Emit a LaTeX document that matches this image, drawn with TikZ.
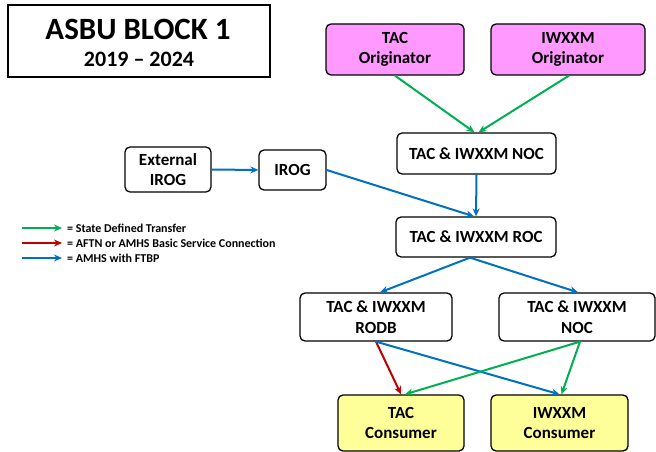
\documentclass[tikz,border=0pt]{standalone}
\usepackage{fontspec}
\setmainfont{Carlito}
\usetikzlibrary{arrows.meta}
\definecolor{cgreen}{HTML}{00B050}
\definecolor{cred}{HTML}{C00000}
\definecolor{cblue}{HTML}{0070C0}
\definecolor{cviolet}{HTML}{FF99FF}
\definecolor{cyellow}{HTML}{FFFF99}
\tikzset{
  box/.style={draw=black, line width=1.3pt, rounded corners=5pt, align=center, font=\fontsize{17}{20.5}\selectfont\bfseries, inner sep=0pt},
  orig/.style={box, fill=cviolet},
  cons/.style={box, fill=cyellow},
  conn/.style={line width=2pt, -{Stealth[length=8pt,width=7pt]}},
  gconn/.style={conn, draw=cgreen, fill=cgreen},
  rconn/.style={conn, draw=cred, fill=cred},
  bconn/.style={conn, draw=cblue, fill=cblue},
  legline/.style={line width=2.6pt},
  legtext/.style={anchor=west, font=\fontsize{12}{14}\selectfont\bfseries, inner sep=0pt}
}
\begin{document}
\begin{tikzpicture}[x=1pt, y=-1pt]
\useasboundingbox (0,0) rectangle (656,452);
% title
\node[draw=black, line width=1.3pt, minimum width=262pt, minimum height=72pt, inner sep=0pt] (title) at (139,41) {};
\node[font=\fontsize{31}{36}\selectfont\bfseries, inner sep=0pt] (titlea) at (138,29) {ASBU BLOCK 1};
\node[font=\fontsize{22}{26}\selectfont\bfseries, inner sep=0pt] (titleb) at (139,59) {2019 -- 2024};
% nodes
\node[orig, minimum width=138pt, minimum height=51pt] (tacorig) at (395,49.5) {TAC\\Originator};
\node[orig, minimum width=154pt, minimum height=51pt] (iworig) at (568,49.5) {IWXXM\\Originator};
\node[box, minimum width=159pt, minimum height=41pt] (noc) at (476.5,153.5) {TAC \& IWXXM NOC};
\node[box, minimum width=86pt, minimum height=45pt] (extirog) at (168,169.5) {External\\IROG};
\node[box, minimum width=67pt, minimum height=40pt] (irog) at (292.5,170) {IROG};
\node[box, minimum width=160pt, minimum height=40pt] (roc) at (476,237) {TAC \& IWXXM ROC};
\node[box, minimum width=152pt, minimum height=48pt] (rodb) at (376,317) {TAC \& IWXXM\\RODB};
\node[box, minimum width=156pt, minimum height=48pt] (noc2) at (577,317) {TAC \& IWXXM\\NOC};
\node[cons, minimum width=126pt, minimum height=56pt] (taccons) at (401,423) {TAC\\Consumer};
\node[cons, minimum width=137pt, minimum height=56pt] (iwcons) at (559.5,423) {IWXXM\\Consumer};
% connectors
\draw[gconn] ([xshift=0pt]tacorig.south) -- ([xshift=-2pt]noc.north);
\draw[gconn] ([xshift=1pt]iworig.south) -- ([xshift=2pt]noc.north);
\draw[bconn] (noc.south) -- (roc.north);
\draw[bconn] (extirog.east) -- (irog.west);
\draw[bconn] (irog.east) -- ([xshift=-2pt]roc.north);
\draw[bconn] ([xshift=-6pt]roc.south) -- ([xshift=4pt]rodb.north);
\draw[bconn] ([xshift=-6pt]roc.south) -- ([xshift=1pt]noc2.north);
\draw[rconn] (rodb.south) -- (taccons.north);
\draw[bconn] (rodb.south) -- (iwcons.north);
\draw[gconn] ([xshift=3pt]noc2.south) -- ([xshift=4pt]taccons.north);
\draw[gconn] ([xshift=3pt]noc2.south) -- ([xshift=2pt]iwcons.north);
% legend
\coordinate (l1a) at (22,228); \coordinate (l1b) at (62,228);
\coordinate (l2a) at (22,243); \coordinate (l2b) at (62,243);
\coordinate (l3a) at (22,258); \coordinate (l3b) at (62,258);
\draw[gconn, legline] (l1a) -- (l1b);
\draw[rconn, legline] (l2a) -- (l2b);
\draw[bconn, legline] (l3a) -- (l3b);
\node[legtext] (t1) at (67,228) {= State Defined Transfer};
\node[legtext] (t2) at (67,243) {= AFTN or AMHS Basic Service Connection};
\node[legtext] (t3) at (67,258) {= AMHS with FTBP};
\end{tikzpicture}
\end{document}
